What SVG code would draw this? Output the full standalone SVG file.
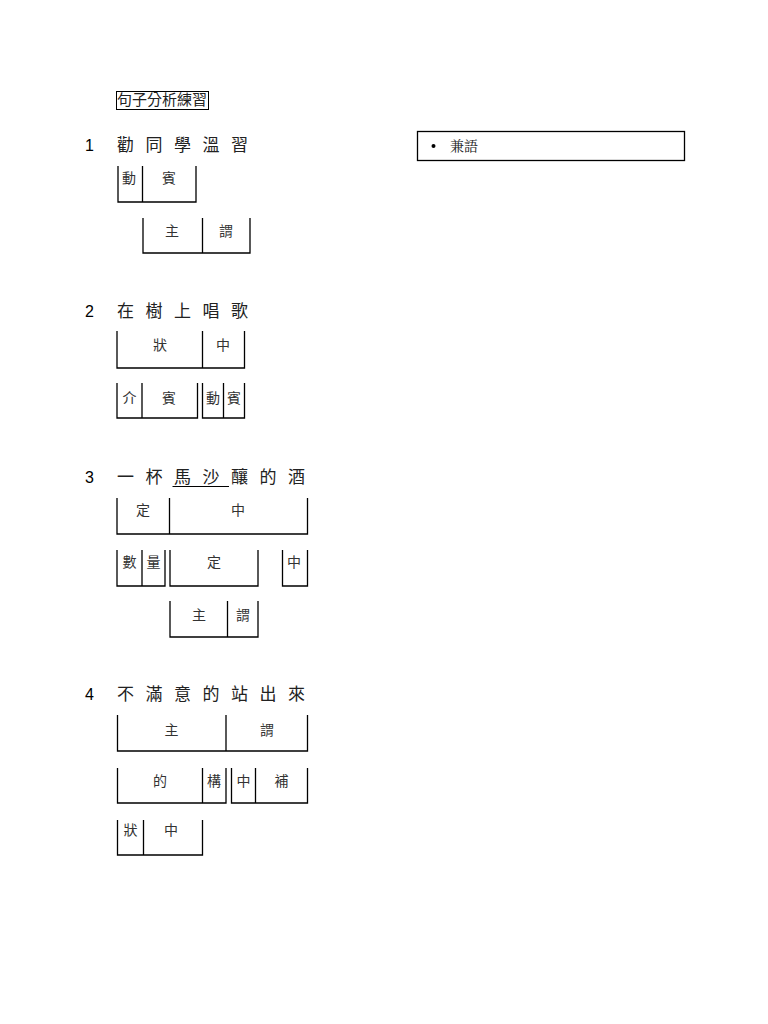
<svg xmlns="http://www.w3.org/2000/svg" width="768" height="1024" viewBox="0 0 768 1024">
<style>
.bx{fill:none;stroke:#000;stroke-width:1.3}
.t{font-family:"Noto Sans CJK TC","Noto Sans CJK SC",sans-serif;font-size:14px;fill:#333;text-anchor:middle}
.h{font-family:"Noto Sans CJK TC","Noto Sans CJK SC",sans-serif;font-size:17px;fill:#222}
.n{font-family:"Liberation Sans",Arial,sans-serif;font-size:16px;fill:#000}
</style>
<rect width="768" height="1024" fill="#fff"/>
<g id="title">
<rect x="116.5" y="91.5" width="92" height="18" fill="none" stroke="#000" stroke-width="1"/>
<text x="117" y="105" font-family="Noto Sans CJK TC, sans-serif" font-size="15" fill="#222" textLength="90">句子分析練習</text>
</g>
<g id="note">
<rect x="417.5" y="131.5" width="267" height="29" fill="none" stroke="#000" stroke-width="1.3"/>
<circle cx="433.5" cy="146" r="2" fill="#000"/>
<text x="450" y="151" font-family="Noto Serif CJK TC, Noto Sans CJK TC, serif" font-size="14" fill="#222">兼語</text>
</g>
<g id="headings">
<text class="n" x="85" y="151">1</text>
<text class="h" x="117 145.5 174 202.5 231" y="151">勸同學溫習</text>
<text class="n" x="85" y="317">2</text>
<text class="h" x="117 145.5 174 202.5 231" y="317">在樹上唱歌</text>
<text class="n" x="85" y="483">3</text>
<text class="h" x="117 145.5 174 202.5 231 259.5 288" y="483">一杯馬沙釀的酒</text>
<line x1="172.5" y1="486.5" x2="229" y2="486.5" stroke="#000" stroke-width="1"/>
<text class="n" x="85" y="700">4</text>
<text class="h" x="117 145.5 174 202.5 231 259.5 288" y="700">不滿意的站出來</text>
</g>
<g id="s1-dongbin">
<path class="bx" d="M118 166V202H196V166M142.5 166V202"/>
<text class="t" x="129" y="183">動</text><text class="t" x="169" y="183">賓</text>
</g>
<g id="s1-zhuwei">
<path class="bx" d="M143 218V253H250V218M202.5 218V253"/>
<text class="t" x="172" y="236">主</text><text class="t" x="226" y="236">謂</text>
</g>
<g id="s2-zhuangzhong">
<path class="bx" d="M117 331V368H244.5V331M202.5 331V368"/>
<text class="t" x="160" y="350">狀</text><text class="t" x="223" y="350">中</text>
</g>
<g id="s2-jiebin">
<path class="bx" d="M117 383V418H197.5V383M142 383V418"/>
<text class="t" x="129.5" y="403">介</text><text class="t" x="169" y="403">賓</text>
</g>
<g id="s2-dongbin">
<path class="bx" d="M202.5 383V418H244.5V383M223.5 383V418"/>
<text class="t" x="213" y="403">動</text><text class="t" x="234" y="403">賓</text>
</g>
<g id="s3-dingzhong">
<path class="bx" d="M117 498V534H307.5V498M169.5 498V534"/>
<text class="t" x="143" y="515">定</text><text class="t" x="238" y="515">中</text>
</g>
<g id="s3-shuliang">
<path class="bx" d="M117 550V586H165V550M142 550V586"/>
<text class="t" x="129.5" y="567">數</text><text class="t" x="153.5" y="567">量</text>
</g>
<g id="s3-ding">
<path class="bx" d="M170 550V586H258V550"/>
<text class="t" x="214" y="567">定</text>
</g>
<g id="s3-zhong">
<path class="bx" d="M282.5 550V586H307.5V550"/>
<text class="t" x="294" y="567">中</text>
</g>
<g id="s3-zhuwei">
<path class="bx" d="M170 601V637H258V601M227.5 601V637"/>
<text class="t" x="199" y="620">主</text><text class="t" x="243" y="620">謂</text>
</g>
<g id="s4-zhuwei">
<path class="bx" d="M117.5 715V751H307.5V715M226 715V751"/>
<text class="t" x="171.5" y="735">主</text><text class="t" x="267" y="735">謂</text>
</g>
<g id="s4-degou">
<path class="bx" d="M117.5 768V803H226V768M202.5 768V803"/>
<text class="t" x="160" y="786">的</text><text class="t" x="214" y="786">構</text>
</g>
<g id="s4-zhongbu">
<path class="bx" d="M231.5 768V803H307.5V768M255.5 768V803"/>
<text class="t" x="243.5" y="786">中</text><text class="t" x="281.5" y="786">補</text>
</g>
<g id="s4-zhuangzhong">
<path class="bx" d="M117.5 820V855H202.5V820M143.5 820V855"/>
<text class="t" x="130.5" y="835">狀</text><text class="t" x="171" y="835">中</text>
</g>
</svg>
